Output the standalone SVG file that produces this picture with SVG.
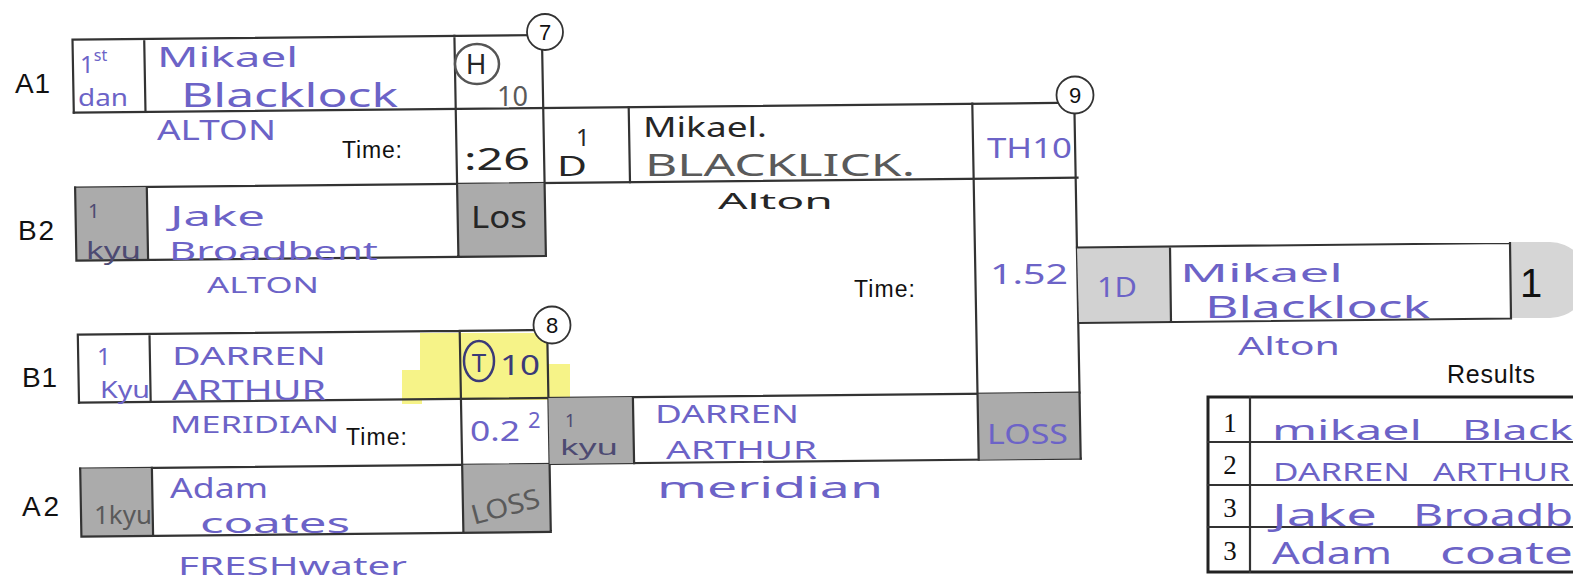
<svg xmlns="http://www.w3.org/2000/svg" width="1573" height="582" viewBox="0 0 1573 582">
<style>
.ln{fill:none;stroke:#333;stroke-width:2.2;stroke-linecap:square}
.loss{fill:#ababab}
.lbl{font-family:"Liberation Sans",Arial,sans-serif;fill:#111}
.hw{font-family:"Noto Sans","DejaVu Sans",sans-serif;fill:#6c63c7}
.pen{font-family:"Noto Sans","DejaVu Sans",sans-serif;fill:#262626}
.pen2{font-family:"Noto Sans","DejaVu Sans",sans-serif;fill:#5a5a5a}
.gr{font-family:"Noto Sans","DejaVu Sans",sans-serif;fill:#4d4a72}
.num{fill:#fff;stroke:#333;stroke-width:1.8}
</style>
<rect width="1573" height="582" fill="#fff"/>

<g id="labels" class="lbl" font-size="28">
<text x="15" y="93" textLength="35">A1</text>
<text x="18" y="240" textLength="36">B2</text>
<text x="22" y="387" textLength="35">B1</text>
<text x="22" y="516" textLength="37">A2</text>
</g>

<g id="highlight" fill="#f6f27c" opacity="0.9">
<rect x="420" y="333" width="128" height="67"/>
<rect x="402" y="370" width="20" height="34"/>
<rect x="546" y="364" width="24" height="34"/>
</g>

<g id="connectors">
<path class="ln" d="M73.8,112.7 L1077,102.7"/>
<path class="ln" d="M75.1,187.7 L1077.5,177.7"/>
<path class="ln" d="M79,402.7 L1079.5,392.7"/>
<path class="ln" d="M80.2,468.6 L1080.7,458.6"/>
</g>

<g id="match-7">
<polygon class="loss" points="75.1,187.7 146.8,187 148.1,260 76.4,260.7"/>
<polygon class="loss" points="457,183.9 544.6,183 545.9,256 458.4,256.9"/>
<path class="ln" d="M72.5,39.7 L545,35 M72.5,39.7 L73.8,112.7 M144.2,39 L145.5,112 M454.4,35.9 L458.4,256.9 M541.9,35 L545.9,256 M75.1,187.7 L76.4,260.7 M146.8,187 L148.1,260 M76.4,260.7 L545.9,256"/>
<circle class="num" cx="545" cy="32" r="18"/>
<text class="lbl" x="545" y="40" font-size="22" text-anchor="middle">7</text>
<text class="hw" x="80" y="73" font-size="24">1<tspan dy="-12" font-size="16">st</tspan></text>
<text class="hw" x="78" y="106" font-size="24" textLength="50" lengthAdjust="spacingAndGlyphs">dan</text>
<text class="hw" x="157" y="67" font-size="28" textLength="141" lengthAdjust="spacingAndGlyphs">Mikael</text>
<text class="hw" x="181" y="107" font-size="32" textLength="217" lengthAdjust="spacingAndGlyphs">Blacklock</text>
<text class="hw" x="157" y="140" font-size="27" textLength="119" lengthAdjust="spacingAndGlyphs">ALTON</text>
<text class="lbl" x="342" y="158" font-size="23" textLength="60">Time:</text>
<ellipse cx="477" cy="64" rx="22" ry="20" fill="none" stroke="#555" stroke-width="2.5"/>
<text class="pen" x="476" y="74" font-size="28" text-anchor="middle">H</text>
<text class="pen2" x="497" y="106" font-size="28" textLength="31" lengthAdjust="spacingAndGlyphs">10</text>
<text class="pen" x="464" y="170" font-size="30" textLength="66" lengthAdjust="spacingAndGlyphs">:26</text>
<text class="gr" x="88" y="218" font-size="20">1</text>
<text class="gr" x="86" y="259" font-size="24" textLength="55" lengthAdjust="spacingAndGlyphs">kyu</text>
<text class="hw" x="170" y="226" font-size="28" textLength="95" lengthAdjust="spacingAndGlyphs">Jake</text>
<text class="hw" x="169" y="260" font-size="26" textLength="209" lengthAdjust="spacingAndGlyphs">Broadbent</text>
<text class="hw" x="207" y="293" font-size="22" textLength="112" lengthAdjust="spacingAndGlyphs">ALTON</text>
<text class="pen" x="471" y="228" font-size="30" textLength="56" lengthAdjust="spacingAndGlyphs">Los</text>
</g>

<g id="match-8">
<polygon class="loss" points="80.2,468.6 151.9,467.9 153.1,535.9 81.4,536.6"/>
<polygon class="loss" points="462.2,464.8 549.6,463.9 550.8,531.9 463.4,532.8"/>
<path class="ln" d="M77.8,334.7 L551,329.9 M77.8,334.7 L79,402.7 M149.5,334 L150.7,401.9 M459.7,330.9 L463.4,532.8 M547.2,330 L550.8,532 M80.2,468.6 L81.4,536.6 M151.9,467.9 L153.1,535.9 M81.4,536.6 L550.8,531.9"/>
<circle class="num" cx="552" cy="325" r="18.5"/>
<text class="lbl" x="552" y="333" font-size="22" text-anchor="middle">8</text>
<text class="hw" x="97" y="365" font-size="24">1</text>
<text class="hw" x="100" y="398" font-size="24" textLength="50" lengthAdjust="spacingAndGlyphs">Kyu</text>
<text class="hw" x="172" y="365" font-size="26" textLength="154" lengthAdjust="spacingAndGlyphs">DARREN</text>
<text class="hw" x="172" y="400" font-size="27" textLength="154" lengthAdjust="spacingAndGlyphs">ARTHUR</text>
<text class="hw" x="170" y="433" font-size="24" textLength="169" lengthAdjust="spacingAndGlyphs">MERIDIAN</text>
<text class="lbl" x="346" y="445" font-size="23" textLength="61">Time:</text>
<ellipse cx="479" cy="361" rx="15" ry="20" fill="none" stroke="#3b3a78" stroke-width="2.5"/>
<text x="479" y="372" font-size="26" text-anchor="middle" font-family="Noto Sans,sans-serif" fill="#3b3a78">T</text>
<text x="500" y="375" font-size="28" textLength="40" lengthAdjust="spacingAndGlyphs" font-family="Noto Sans,sans-serif" fill="#3b3a78">10</text>
<text class="hw" x="470" y="441" font-size="28" textLength="50" lengthAdjust="spacingAndGlyphs">0.2</text>
<text class="hw" x="528" y="428" font-size="22">2</text>
<text class="pen2" x="94" y="524" font-size="26" textLength="58" lengthAdjust="spacingAndGlyphs">1kyu</text>
<text class="hw" x="170" y="498" font-size="28" textLength="98" lengthAdjust="spacingAndGlyphs">Adam</text>
<text class="hw" x="200" y="533" font-size="28" textLength="150" lengthAdjust="spacingAndGlyphs">coates</text>
<text class="hw" x="178" y="575" font-size="26" textLength="229" lengthAdjust="spacingAndGlyphs">FRESHwater</text>
<text class="pen2" x="470" y="516" font-size="27" textLength="70" lengthAdjust="spacingAndGlyphs" transform="rotate(-15 505 505)">LOSS</text>
</g>

<g id="match-9">
<polygon class="loss" points="548.4,398 632.9,397.1 634.1,463.1 549.6,463.9"/>
<polygon class="loss" points="977.6,393.7 1079.5,392.7 1080.7,458.6 978.7,459.7"/>
<path class="ln" d="M628.7,107.2 L630,182.2 M972.3,103.7 L978.7,459.7 M1074.3,102 L1080.7,458.6 M632.9,397.1 L634.1,463.1"/>
<circle class="num" cx="1075" cy="95" r="18.5"/>
<text class="lbl" x="1075" y="103" font-size="22" text-anchor="middle">9</text>
<text class="pen" x="576" y="146" font-size="24">1</text>
<text class="pen" x="557" y="176" font-size="28" textLength="30" lengthAdjust="spacingAndGlyphs">D</text>
<text class="pen" x="643" y="137" font-size="28" textLength="124" lengthAdjust="spacingAndGlyphs">Mikael.</text>
<text class="pen2" x="645" y="176" font-size="30" textLength="270" lengthAdjust="spacingAndGlyphs">BLACKLICK.</text>
<text class="pen" x="718" y="209" font-size="22" textLength="115" lengthAdjust="spacingAndGlyphs">Alton</text>
<text class="hw" x="987" y="158" font-size="28" textLength="85" lengthAdjust="spacingAndGlyphs">TH10</text>
<text class="lbl" x="854" y="297" font-size="23" textLength="61">Time:</text>
<text class="hw" x="990" y="284" font-size="28" textLength="78" lengthAdjust="spacingAndGlyphs">1.52</text>
<text class="gr" x="565" y="427" font-size="18">1</text>
<text class="gr" x="560" y="455" font-size="22" textLength="58" lengthAdjust="spacingAndGlyphs">kyu</text>
<text class="hw" x="655" y="423" font-size="26" textLength="144" lengthAdjust="spacingAndGlyphs">DARREN</text>
<text class="hw" x="666" y="459" font-size="26" textLength="151" lengthAdjust="spacingAndGlyphs">ARTHUR</text>
<text class="hw" x="657" y="498" font-size="29" textLength="226" lengthAdjust="spacingAndGlyphs">meridian</text>
<text class="hw" x="987" y="444" font-size="28" textLength="81" lengthAdjust="spacingAndGlyphs">LOSS</text>
</g>

<g id="final">
<path d="M1511,242 L1550,242 A38,38 0 0 1 1550,318 L1511,318 Z" fill="#d6d6d6"/>
<polygon points="1077,247.5 1170,246.5 1171,322 1079,323" fill="#d2d2d2"/>
<path class="ln" d="M1077,247.5 L1510,243 M1079,323 L1511,318.5 M1170,246.5 L1171,322 M1510,243 L1511,318.5"/>
<text class="hw" x="1097" y="297" font-size="28" textLength="40" lengthAdjust="spacingAndGlyphs">1D</text>
<text class="hw" x="1180" y="282" font-size="26" textLength="163" lengthAdjust="spacingAndGlyphs">Mikael</text>
<text class="hw" x="1205" y="318" font-size="30" textLength="225" lengthAdjust="spacingAndGlyphs">Blacklock</text>
<text class="hw" x="1238" y="355" font-size="26" textLength="102" lengthAdjust="spacingAndGlyphs">Alton</text>
<text class="lbl" x="1531" y="297" font-size="40" text-anchor="middle" fill="#222">1</text>
</g>

<g id="results">
<text class="lbl" x="1447" y="383" font-size="25" textLength="88">Results</text>
<rect x="1208" y="397" width="400" height="175" fill="none" stroke="#222" stroke-width="3"/>
<path class="ln" d="M1250,397 L1250,572 M1208,442 L1573,442 M1208,485 L1573,485 M1208,527 L1573,527"/>
<g font-family="Liberation Serif,serif" font-size="27" fill="#111" text-anchor="middle">
<text x="1230" y="432">1</text>
<text x="1230" y="474">2</text>
<text x="1230" y="517">3</text>
<text x="1230" y="560">3</text>
</g>
<text class="hw" y="440" font-size="28"><tspan x="1272" textLength="150" lengthAdjust="spacingAndGlyphs">mikael</tspan><tspan x="1462" textLength="111" lengthAdjust="spacingAndGlyphs">Black</tspan></text>
<text class="hw" y="481" font-size="26"><tspan x="1273" textLength="137" lengthAdjust="spacingAndGlyphs">DARREN</tspan><tspan x="1433" textLength="137" lengthAdjust="spacingAndGlyphs">ARTHUR</tspan></text>
<text class="hw" y="526" font-size="30"><tspan x="1272" textLength="105" lengthAdjust="spacingAndGlyphs">Jake</tspan><tspan x="1413" textLength="160" lengthAdjust="spacingAndGlyphs">Broadb</tspan></text>
<text class="hw" y="564" font-size="30"><tspan x="1272" textLength="120" lengthAdjust="spacingAndGlyphs">Adam</tspan><tspan x="1440" textLength="133" lengthAdjust="spacingAndGlyphs">coate</tspan></text>
</g>
</svg>
